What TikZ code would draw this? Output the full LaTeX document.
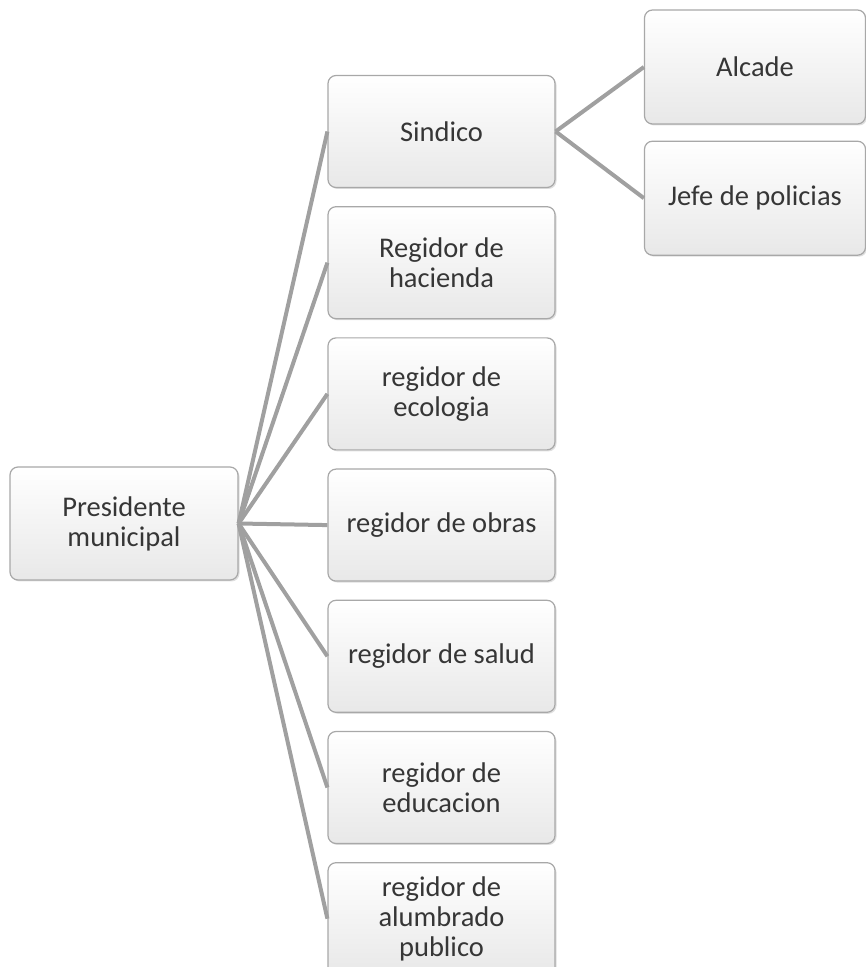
\documentclass[tikz,border=0pt]{standalone}
\usepackage{fontspec}
\setmainfont{Carlito}
\usetikzlibrary{positioning,shadows}
\definecolor{boxline}{HTML}{A8A8A8}
\definecolor{linkgray}{HTML}{A0A0A0}
\definecolor{txtgray}{HTML}{363636}
\begin{document}
\begin{tikzpicture}[x=1pt,y=1pt,
    box/.style={draw=boxline, line width=1.2pt, rounded corners=8pt,
        top color=white, bottom color=black!9,
        drop shadow={shadow xshift=1.5pt, shadow yshift=-1.5pt, fill=black!25},
        minimum width=227pt, minimum height=112pt, align=center,
        text=txtgray, font=\fontsize{28.5}{30}\selectfont},
    link/.style={draw=linkgray, line width=4pt}]
    \useasboundingbox (0,0) rectangle (866,967);
    \node[box, minimum height=113pt, minimum width=228pt] (pres) at (124,443.5) {Presidente\\municipal};
    \node[box] (sind) at (441.5,835.5) {Sindico};
    \node[box, below=18pt of sind] (hac) {Regidor de\\hacienda};
    \node[box, below=18pt of hac] (eco) {regidor de\\ecologia};
    \node[box, below=18pt of eco] (obr) {regidor de obras};
    \node[box, below=18pt of obr] (sal) {regidor de salud};
    \node[box, below=18pt of sal] (edu) {regidor de\\educacion};
    \node[box, below=18pt of edu] (alu) {regidor de\\alumbrado\\publico};
    \node[box, minimum width=221pt, minimum height=114pt] (alc) at (755,900) {Alcade};
    \node[box, minimum width=221pt, minimum height=114pt, below=16pt of alc] (jefe) {Jefe de policias};
    \begin{scope}[on background layer/.try]
    \foreach \n in {sind,hac,eco,obr,sal,edu,alu}
        \draw[link] (pres.east) -- (\n.west);
    \draw[link] (sind.east) -- (alc.west);
    \draw[link] (sind.east) -- (jefe.west);
    \end{scope}
\end{tikzpicture}
\end{document}
